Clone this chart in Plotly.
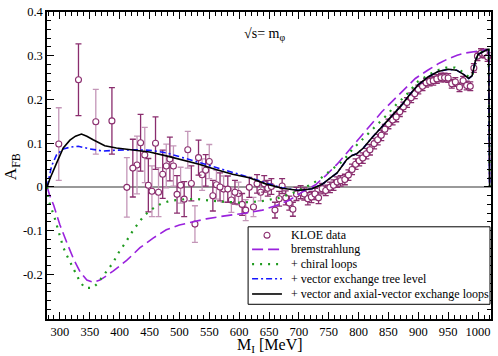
import plotly.graph_objects as go

# ---------------- data ----------------
kloe_m = [298, 331, 360, 387, 412, 422, 429, 435, 442, 448, 454, 460, 465, 472, 478, 484,
          490, 496, 502, 508, 514, 520, 526, 532, 538, 544, 550, 556, 562, 568, 574, 581,
          587, 593, 599, 605, 611, 617, 624, 630, 636, 642, 648, 654, 660, 667, 672, 678,
          684, 690, 696, 703, 709, 715, 721, 727, 733, 739, 745, 752, 758, 764, 770, 777,
          783, 789, 795, 801, 807, 813, 819, 826, 832, 838, 844, 850, 857, 863, 869, 875,
          881, 888, 894, 900, 907, 913, 919, 925, 931, 938, 944, 950, 956, 962, 969, 975,
          981, 987, 993, 999, 1005, 1011, 1016]
kloe_a = [0.098, 0.245, 0.149, 0.151, -0.001, 0.043, 0.050, 0.101, 0.073, 0.004, -0.010, 0.100,
          -0.012, 0.029, 0.048, 0.064, 0.048, -0.017, 0.004, -0.028, 0.085, 0.008, -0.085, 0.067,
          0.028, 0.038, 0.058, -0.020, 0.005, 0.000, -0.005, -0.005, -0.030, -0.012, -0.015, -0.040,
          -0.053, -0.001, -0.046, 0.007, -0.012, 0.007, -0.003, 0.001, -0.053, -0.027, 0.002, -0.025,
          -0.037, -0.051, -0.016, -0.012, -0.016, -0.027, -0.023, -0.016, -0.025, -0.004, -0.008, -0.001,
          0.004, 0.011, 0.014, 0.017, 0.027, 0.040, 0.052, 0.060, 0.066, 0.076, 0.085, 0.099,
          0.108, 0.118, 0.132, 0.144, 0.153, 0.160, 0.172, 0.183, 0.193, 0.204, 0.213, 0.223,
          0.230, 0.238, 0.241, 0.243, 0.247, 0.250, 0.250, 0.249, 0.236, 0.240, 0.228, 0.243,
          0.232, 0.230, 0.272, 0.299, 0.306, 0.305, 0.297]
kloe_err = [0.083, 0.082, 0.074, 0.076, 0.068, 0.066, 0.066, 0.065, 0.063, 0.061, 0.058, 0.060,
            0.056, 0.055, 0.050, 0.050, 0.046, 0.043, 0.041, 0.040, 0.042, 0.040, 0.042, 0.040,
            0.036, 0.036, 0.039, 0.035, 0.033, 0.032, 0.030, 0.030, 0.028, 0.027, 0.026, 0.025,
            0.024, 0.023, 0.022, 0.021, 0.020, 0.019, 0.018, 0.018, 0.018, 0.017, 0.017, 0.016,
            0.016, 0.016, 0.015, 0.015, 0.014, 0.014, 0.013, 0.013, 0.013, 0.012, 0.012, 0.012,
            0.012, 0.012, 0.012, 0.012, 0.012, 0.012, 0.012, 0.012, 0.012, 0.012, 0.012, 0.012,
            0.012, 0.012, 0.011, 0.011, 0.011, 0.011, 0.011, 0.011, 0.011, 0.011, 0.011, 0.010,
            0.010, 0.010, 0.010, 0.010, 0.010, 0.010, 0.010, 0.010, 0.010, 0.010, 0.010, 0.010,
            0.010, 0.010, 0.010, 0.010, 0.010, 0.010, 0.010]

brems_m = [278.5, 283, 289.5, 300, 311.7, 322.8, 334, 345, 356, 367, 378, 389.5, 411.7, 434, 456,
           478, 500, 523, 545, 567, 589, 610, 639, 661, 683, 705, 728, 745, 764, 789, 808, 839,
           866, 883, 895, 917, 935, 950, 965, 978, 1000, 1014, 1017.8, 1019.4]
brems_a = [0.0, -0.02, -0.042, -0.087, -0.128, -0.165, -0.195, -0.213, -0.218, -0.213, -0.203,
           -0.192, -0.168, -0.139, -0.117, -0.098, -0.087, -0.079, -0.073, -0.068, -0.064, -0.060,
           -0.053, -0.043, -0.031, -0.012, 0.005, 0.026, 0.052, 0.093, 0.122, 0.172, 0.209, 0.230,
           0.248, 0.268, 0.283, 0.293, 0.301, 0.306, 0.311, 0.314, 0.314, 0.0]

chiral_m = [278.5, 281, 290.5, 298, 305, 310.5, 316, 323, 334, 342, 354.5, 362, 370, 380, 388,
            400.5, 409, 423, 431, 439.5, 448, 459, 470, 484, 509, 531, 556, 578, 600, 636, 667,
            686, 711, 733, 755, 775, 789, 800, 817, 833, 847, 864, 879, 900, 919.5, 933, 947,
            961, 972, 980, 986, 991, 995.5, 1000, 1008, 1015.5, 1017.8, 1019.4]
chiral_a = [0.0, -0.031, -0.068, -0.102, -0.136, -0.154, -0.169, -0.188, -0.218, -0.231, -0.231,
            -0.222, -0.207, -0.19, -0.175, -0.145, -0.129, -0.098, -0.083, -0.068, -0.057, -0.046,
            -0.038, -0.032, -0.028, -0.028, -0.032, -0.034, -0.036, -0.033, -0.025, -0.016, -0.001,
            0.016, 0.039, 0.061, 0.085, 0.099, 0.123, 0.145, 0.164, 0.19, 0.209, 0.242, 0.258,
            0.267, 0.273, 0.273, 0.265, 0.256, 0.250, 0.258, 0.288, 0.303, 0.310, 0.314, 0.314, 0.0]

vtree_m = [278.5, 286, 294.5, 305.5, 318, 330.5, 350, 372, 394.5, 422, 450, 478, 505.5, 533, 561,
           589, 617, 644.5, 672, 700, 722, 739, 750, 764, 780.5, 789, 797, 808, 822, 839, 855.5,
           872, 883, 900, 917, 933, 950, 964, 975, 984.5, 990, 995.5, 1000, 1008, 1015.5, 1017.8,
           1019.4]
vtree_a = [0.0, 0.048, 0.074, 0.087, 0.091, 0.093, 0.087, 0.082, 0.084, 0.085, 0.084, 0.078,
           0.067, 0.056, 0.044, 0.033, 0.022, 0.009, -0.002, -0.008, -0.004, 0.006, 0.018, 0.032,
           0.063, 0.072, 0.076, 0.089, 0.112, 0.138, 0.164, 0.187, 0.207, 0.234, 0.252, 0.264,
           0.269, 0.267, 0.258, 0.248, 0.254, 0.288, 0.303, 0.309, 0.314, 0.314, 0.0]

loops_m = [278.5, 283, 294.5, 305.5, 316.7, 326, 336, 345, 355.5, 375, 394.5, 422, 450, 478,
           505.5, 533, 561, 589, 617, 644.5, 672, 700, 722, 739, 750, 764, 780.5, 789, 797, 808,
           822, 839, 855.5, 872, 883, 900, 917, 933, 950, 964, 975, 984.5, 990, 995.5, 1000,
           1008, 1015.5, 1017.8, 1019.4]
loops_a = [0.0, 0.018, 0.055, 0.089, 0.107, 0.116, 0.121, 0.116, 0.108, 0.094, 0.089, 0.084,
           0.080, 0.071, 0.062, 0.052, 0.040, 0.029, 0.021, 0.007, -0.003, -0.008, -0.004, 0.006,
           0.018, 0.032, 0.063, 0.072, 0.076, 0.089, 0.112, 0.138, 0.164, 0.187, 0.207, 0.234,
           0.252, 0.264, 0.269, 0.267, 0.258, 0.248, 0.254, 0.288, 0.303, 0.309, 0.314, 0.314, 0.0]

x_ticks = [300, 350, 400, 450, 500, 550, 600, 650, 700, 750, 800, 850, 900, 950, 1000]
y_ticks = [-0.2, -0.1, 0, 0.1, 0.2, 0.3, 0.4]
y_ticktext = ["-0.2", "-0.1", "0", "0.1", "0.2", "0.3", "0.4"]

legend_labels = ["KLOE data", "bremstrahlung", "+ chiral loops",
                 "+ vector exchange tree level", "+ vector and axial-vector exchange loops"]

# ---------------- styles ----------------
FONT = "Liberation Serif"
C_DARK = "#8a2d6e"
C_LIGHT = "#c496b8"
C_BREMS = "#9a22dd"
C_CHIRAL = "#1f9a1f"
C_VTREE = "#1515ff"
C_LOOPS = "#000000"

W, H = 498, 356
ML, MR, MT, MB = 47, 5, 6, 37
PW, PH = W - ML - MR, H - MT - MB


def px2paper(px, py):
    return (px - ML) / PW, (H - MB - py) / PH


fig = go.Figure()

# data, split in two groups to reproduce the two error-bar tints
light_idx = [i for i in range(len(kloe_m)) if i % 2 == 0 and kloe_m[i] < 640]
dark_idx = [i for i in range(len(kloe_m)) if i not in light_idx]
for idx, col in ((light_idx, C_LIGHT), (dark_idx, C_DARK)):
    fig.add_trace(go.Scatter(
        x=[kloe_m[i] for i in idx], y=[kloe_a[i] for i in idx],
        mode="markers", name=legend_labels[0], showlegend=False,
        marker=dict(symbol="circle", size=6, color="white",
                    line=dict(color=C_DARK, width=1.1)),
        error_y=dict(type="data", array=[kloe_err[i] for i in idx],
                     color=col, thickness=1.3, width=3),
    ))

fig.add_trace(go.Scatter(x=brems_m, y=brems_a, mode="lines", name=legend_labels[1],
                         showlegend=False,
                         line=dict(color=C_BREMS, width=1.6, dash="11px,5px")))
fig.add_trace(go.Scatter(x=chiral_m, y=chiral_a, mode="lines", name=legend_labels[2],
                         showlegend=False,
                         line=dict(color=C_CHIRAL, width=2.2, dash="2px,6px")))
fig.add_trace(go.Scatter(x=vtree_m, y=vtree_a, mode="lines", name=legend_labels[3],
                         showlegend=False,
                         line=dict(color=C_VTREE, width=1.6, dash="6px,3px,2px,3px")))
fig.add_trace(go.Scatter(x=loops_m, y=loops_a, mode="lines", name=legend_labels[4],
                         showlegend=False,
                         line=dict(color=C_LOOPS, width=1.6)))

# ---------------- hand-drawn legend box ----------------
shapes = []
annotations = []
bx0, by0 = px2paper(249, 225)
bx1, by1 = px2paper(492, 304)
shapes.append(dict(type="rect", xref="paper", yref="paper", x0=bx0, y0=by1, x1=bx1, y1=by0,
                   line=dict(color="black", width=1), fillcolor="white", layer="above"))
rows_py = [233.5, 248, 263, 278, 293.5]
styles = [None,
          dict(color=C_BREMS, width=1.6, dash="11px,5px"),
          dict(color=C_CHIRAL, width=2.2, dash="2px,6px"),
          dict(color=C_VTREE, width=1.6, dash="6px,3px,2px,3px"),
          dict(color=C_LOOPS, width=1.6)]
for lab, ry, st in zip(legend_labels, rows_py, styles):
    if st is None:
        cx, cy = px2paper(268, ry)
        rx, ry_ = 3 / PW, 3 / PH
        shapes.append(dict(type="circle", xref="paper", yref="paper",
                           x0=cx - rx, x1=cx + rx, y0=cy - ry_, y1=cy + ry_,
                           line=dict(color=C_DARK, width=1.1), fillcolor="white", layer="above"))
    else:
        lx0, ly = px2paper(253, ry)
        lx1, _ = px2paper(283, ry)
        shapes.append(dict(type="line", xref="paper", yref="paper", x0=lx0, x1=lx1,
                           y0=ly, y1=ly, line=st, layer="above"))
    tx, ty = px2paper(290, ry)
    annotations.append(dict(text=lab, xref="paper", yref="paper", x=tx, y=ty,
                            xanchor="left", yanchor="middle", showarrow=False,
                            font=dict(family=FONT, size=12, color="black")))

# axis titles and label
ax_x, ax_y = px2paper(271, 346.5)
annotations.append(dict(text="M<sub>I</sub> [MeV]", xref="paper", yref="paper", x=ax_x, y=ax_y,
                        xanchor="center", yanchor="middle", showarrow=False,
                        font=dict(family=FONT, size=16, color="black")))
ay_x, ay_y = px2paper(12, 164)
annotations.append(dict(text="A<sub>FB</sub>", xref="paper", yref="paper", x=ay_x, y=ay_y,
                        xanchor="center", yanchor="middle", showarrow=False, textangle=-90,
                        font=dict(family=FONT, size=17, color="black")))
annotations.append(dict(text="\u221as= m<sub>\u03c6</sub>", xref="x", yref="y", x=643, y=0.348,
                        xanchor="center", yanchor="middle", showarrow=False,
                        font=dict(family=FONT, size=14, color="black")))

fig.update_layout(
    width=W, height=H,
    margin=dict(l=ML, r=MR, t=MT, b=MB),
    paper_bgcolor="white", plot_bgcolor="white",
    showlegend=False,
    font=dict(family=FONT, size=12.5, color="black"),
    shapes=shapes, annotations=annotations,
    xaxis=dict(range=[278.3, 1021.7], tickmode="array", tickvals=x_ticks,
               ticktext=[str(v) for v in x_ticks],
               ticks="inside", ticklen=7, tickwidth=1, tickcolor="black",
               minor=dict(ticks="inside", ticklen=4, tickmode="linear", tick0=0, dtick=10,
                          tickcolor="black", tickwidth=1),
               showline=True, linecolor="black", linewidth=1.5, mirror="allticks",
               showgrid=False, zeroline=False,
               tickfont=dict(family=FONT, size=12.5, color="black")),
    yaxis=dict(range=[-0.302, 0.4], tickmode="array", tickvals=y_ticks, ticktext=y_ticktext,
               ticks="inside", ticklen=7, tickwidth=1, tickcolor="black",
               minor=dict(ticks="inside", ticklen=4, tickmode="linear", tick0=0, dtick=0.02,
                          tickcolor="black", tickwidth=1),
               showline=True, linecolor="black", linewidth=1.5, mirror="allticks",
               showgrid=False, zeroline=True, zerolinecolor="#999999", zerolinewidth=2,
               tickfont=dict(family=FONT, size=12.5, color="black")),
)

fig.write_html("out.html", config={"displayModeBar": False},
               post_script="document.body.style.margin='0';document.body.style.overflow='hidden';")
